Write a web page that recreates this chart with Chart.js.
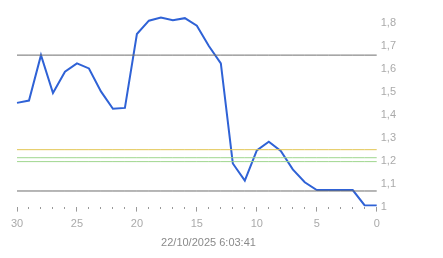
<!DOCTYPE html>
<html>
<head>
<meta charset="utf-8">
<script src="https://cdn.jsdelivr.net/npm/chart.js@4"></script>
<style>
  html, body { margin: 0; padding: 0; background: #fff; }
  #wrap { width: 443px; height: 258px; }
</style>
</head>
<body>
<div id="wrap"><canvas id="priceChart"></canvas></div>
<script>
const days = ['30', '29', '28', '27', '26', '25', '24', '23', '22', '21', '20', '19', '18', '17', '16', '15',
    '14', '13', '12', '11', '10', '9', '8', '7', '6', '5', '4', '3', '2', '1', '0'];
const values = [1.452, 1.462, 1.66, 1.495, 1.588, 1.624, 1.602, 1.502, 1.426, 1.43, 1.752, 1.81, 1.824, 1.812, 1.821, 1.788,
    1.70, 1.624, 1.188, 1.113, 1.245, 1.283, 1.242, 1.162, 1.106, 1.072, 1.072, 1.072, 1.072, 1.005, 1.005];
const upperLine = 1.66;
const lowerLine = 1.068;
const yellowLine = 1.248;
const greenLines = [1.213, 1.196];
const yTicks = [1, 1.1, 1.2, 1.3, 1.4, 1.5, 1.6, 1.7, 1.8];
const stamp = '22/10/2025 6:03:41';

function flat(v, color) {
    return {
        data: days.map(() => v),
        borderColor: color,
        borderWidth: 1,
        pointRadius: 0,
        tension: 0
    };
}

Chart.defaults.font.family = '"Liberation Sans", Arial, sans-serif';
Chart.defaults.font.size = 11;

const ctx = document.getElementById('priceChart');
new Chart(ctx, {
    type: 'line',
    data: {
        labels: days,
        datasets: [
            flat(upperLine, '#6e6e6e'),
            flat(lowerLine, '#6e6e6e'),
            flat(yellowLine, '#e2c552'),
            flat(greenLines[0], '#9fd68e'),
            flat(greenLines[1], '#9fd68e'),
            {
                data: values,
                borderColor: '#2f62d6',
                borderWidth: 2,
                pointRadius: 0,
                tension: 0
            }
        ]
    },
    options: {
        responsive: true,
        maintainAspectRatio: false,
        animation: false,
        layout: { padding: { left: 17, right: 43, top: 0, bottom: 8 } },
        plugins: {
            legend: { display: false },
            tooltip: { enabled: false },
            title: {
                display: true,
                position: 'bottom',
                text: stamp,
                color: '#8a8a8a',
                font: { size: 11, weight: 'normal' },
                padding: { top: 0, bottom: 0 }
            }
        },
        scales: {
            x: {
                type: 'category',
                border: { display: false },
                grid: {
                    drawOnChartArea: false,
                    tickLength: 5,
                    tickColor: '#999',
                    tickBorderDash: (c) => (Number(days[c.index]) % 5 === 0 ? [] : [2, 20])
                },
                ticks: {
                    autoSkip: false,
                    maxRotation: 0,
                    color: '#aaa',
                    padding: 6,
                    callback: function (value, index) {
                        const d = Number(days[index]);
                        return d % 5 === 0 ? days[index] : '';
                    }
                }
            },
            y: {
                position: 'right',
                min: 1,
                max: 1.854,
                afterBuildTicks: (axis) => { axis.ticks = yTicks.map(v => ({ value: v })); },
                border: { display: false },
                grid: { display: false, drawTicks: false },
                ticks: {
                    color: '#aaa',
                    padding: 4,
                    callback: (v) => String(Math.round(v * 10) / 10).replace('.', ',')
                }
            }
        }
    }
});
</script>
</body>
</html>
